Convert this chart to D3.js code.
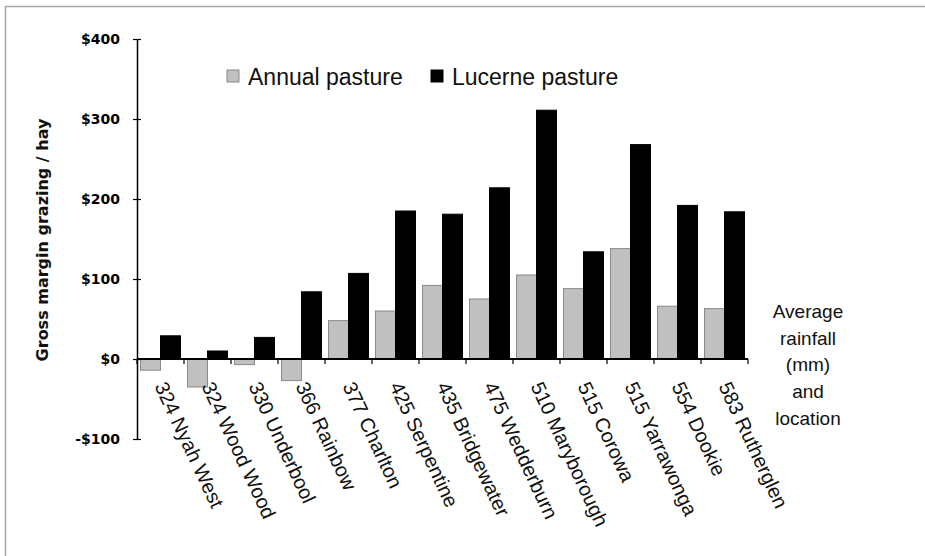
<!DOCTYPE html>
<html>
<head>
<meta charset="utf-8">
<script src="https://cdn.jsdelivr.net/npm/d3@7"></script>
<style>
  html, body { margin: 0; padding: 0; background: #fff; }
  svg { display: block; }
</style>
</head>
<body>
<svg id="chart" width="925" height="556"></svg>
<script>
// Rainfall (mm) and location
const categories = [
  "324 Nyah West", "324 Wood Wood", "330 Underbool", "366 Rainbow",
  "377 Charlton", "425 Serpentine", "435 Bridgewater", "475 Wedderburn",
  "510 Maryborough", "515 Corowa", "515 Yarrawonga", "554 Dookie",
  "583 Rutherglen"
];
const seriesNames = ["Annual pasture", "Lucerne pasture"];
// Gross margin ($/ha)
const annualValues  = [-14, -35, -7, -27, 48, 60, 92, 75, 105, 88, 138, 66, 63];
const lucerneValues = [29, 10, 27, 84, 107, 185, 181, 214, 311, 134, 268, 192, 184];
const yTickValues = [-100, 0, 100, 200, 300, 400];
const xTitleLines = ["Average", "rainfall", "(mm)", "and", "location"];
const yTitle = "Gross margin grazing / hay";

const svg = d3.select("#chart");
const sansFont = "'Liberation Sans', Arial, sans-serif";
const boldFont = "'DejaVu Sans', Verdana, sans-serif";
const colors = { "Annual pasture": "#c0c0c0", "Lucerne pasture": "#000000" };
const strokes = { "Annual pasture": "#8a8a8a", "Lucerne pasture": "#000000" };

// outer frame (top and left edges)
svg.append("path")
  .attr("d", "M5.5,556 L5.5,6.5 L925,6.5")
  .attr("fill", "none").attr("stroke", "#a6a6a6").attr("stroke-width", 1.5);

const plot = { left: 137, right: 748, top: 39, bottom: 439 };

const x = d3.scaleBand().domain(categories).range([plot.left, plot.right]).padding(0);
const xs = d3.scaleBand().domain(seriesNames).range([0, x.bandwidth()])
  .paddingInner(0).paddingOuter(0.175);
const y = d3.scaleLinear().domain([-100, 400]).range([plot.bottom, plot.top]);

const rows = categories.map((c, i) => ({
  cat: c,
  vals: [
    { s: seriesNames[0], v: annualValues[i] },
    { s: seriesNames[1], v: lucerneValues[i] }
  ]
}));

// bars
const groups = svg.append("g").selectAll("g").data(rows).join("g")
  .attr("transform", d => `translate(${x(d.cat)},0)`);
groups.selectAll("rect").data(d => d.vals).join("rect")
  .attr("x", d => xs(d.s))
  .attr("width", xs.bandwidth())
  .attr("y", d => y(Math.max(0, d.v)))
  .attr("height", d => Math.abs(y(d.v) - y(0)))
  .attr("fill", d => colors[d.s])
  .attr("stroke", d => strokes[d.s])
  .attr("stroke-width", 1);

// y axis
const yAxis = svg.append("g").attr("transform", `translate(${plot.left},0)`)
  .call(d3.axisLeft(y).tickValues(yTickValues).tickSize(0).tickPadding(17)
    .tickFormat(d => (d < 0 ? "-$" : "$") + Math.abs(d)));
yAxis.select(".domain").attr("stroke", "#000").attr("stroke-width", 1.5);
yAxis.selectAll(".tick line").attr("x1", -4).attr("x2", 4)
  .attr("stroke", "#000").attr("stroke-width", 1.2);
yAxis.selectAll(".tick text")
  .attr("font-family", boldFont).attr("font-weight", "bold")
  .attr("font-size", 14).attr("fill", "#000");

// x axis along zero
const xAxis = svg.append("g").attr("transform", `translate(0,${y(0)})`);
xAxis.append("line")
  .attr("x1", plot.left).attr("x2", plot.right)
  .attr("stroke", "#000").attr("stroke-width", 1.8);
xAxis.selectAll("line.sep").data(d3.range(categories.length + 1)).join("line")
  .attr("class", "sep")
  .attr("x1", i => plot.left + i * x.step()).attr("x2", i => plot.left + i * x.step())
  .attr("y1", 0).attr("y2", 5)
  .attr("stroke", "#000").attr("stroke-width", 1.2);

// category labels
svg.append("g").selectAll("text").data(categories).join("text")
  .attr("transform", d => `translate(${x(d) + x.bandwidth() / 2},383) rotate(65)`)
  .attr("dy", "0.35em")
  .attr("text-anchor", "start")
  .attr("font-family", sansFont).attr("font-size", 20).attr("fill", "#111")
  .text(d => d);

// x title (right of axis)
svg.append("g").selectAll("text").data(xTitleLines).join("text")
  .attr("x", 808).attr("y", (d, i) => 318 + i * 26.7)
  .attr("text-anchor", "middle")
  .attr("font-family", sansFont).attr("font-size", 19).attr("fill", "#111")
  .text(d => d);

// y title
svg.append("text")
  .attr("transform", "translate(48,240) rotate(-90)")
  .attr("text-anchor", "middle")
  .attr("font-family", boldFont).attr("font-weight", "bold")
  .attr("font-size", 16).attr("fill", "#111")
  .text(yTitle);

// legend
const legendPos = [227, 431];
const legend = svg.append("g").selectAll("g").data(seriesNames).join("g")
  .attr("transform", (d, i) => `translate(${legendPos[i]},70)`);
legend.append("rect")
  .attr("width", 12).attr("height", 12)
  .attr("fill", d => colors[d]).attr("stroke", d => strokes[d]);
legend.append("text")
  .attr("x", 21).attr("y", 15)
  .attr("font-family", sansFont).attr("font-size", 23).attr("fill", "#111")
  .text(d => d);
</script>
</body>
</html>
